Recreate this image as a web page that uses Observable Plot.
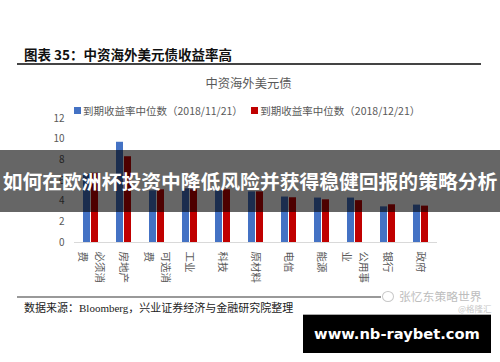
<!DOCTYPE html>
<html>
<head>
<meta charset="utf-8">
<script src="https://cdn.jsdelivr.net/npm/d3@7"></script>
<script src="https://cdn.jsdelivr.net/npm/@observablehq/plot@0.6"></script>
<style>
  html, body { margin: 0; padding: 0; background: #fff; }
  #wrap { position: relative; width: 500px; height: 362px; overflow: hidden; background: #fff;
          font-family: "Noto Sans CJK SC", "Noto Sans", sans-serif; }
  #wrap svg { position: absolute; left: 0; top: 0; }
  .abs { position: absolute; white-space: nowrap; }
  #title { left: 24px; top: 45px; font-size: 13.5px; font-weight: bold; color: #111; line-height: 18px; }
  #topline { left: 17px; top: 63px; width: 464px; height: 1.5px; background: #444; }
  #ctitle { left: 0; width: 497px; text-align: center; top: 75px; font-size: 12.3px; color: #595959; line-height: 16px; }
  #legend { left: 74px; top: 103px; font-size: 10.5px; color: #595959; line-height: 15px; display: flex; align-items: center; }
  #legend .sw { display: inline-block; width: 6.5px; height: 6.5px; margin-right: 2.5px; }
  #legend .item { display: inline-flex; align-items: center; margin-right: 8.5px; }
  #botline { left: 17px; top: 296px; width: 364px; height: 1.5px; background: #999; }
  #source { left: 24px; top: 299px; font-size: 11px; color: #222; line-height: 17px; }
  #source .en { font-family: "Liberation Serif", serif; font-size: 11px; }
  #logo { left: 382px; top: 291px; width: 10px; height: 9px; border: 1.2px solid #c8c8c8; border-radius: 50%; }
  #wm { left: 399px; top: 290px; font-size: 11.8px; color: #bdbdbd; line-height: 12px; }
  #wm2 { left: 458px; top: 304px; font-size: 8.5px; color: #c8c8c8; line-height: 9px; }
  #boxline { left: 303px; top: 314px; width: 188px; height: 1px; background: #aaa; }
  #banner { left: 0; top: 150px; width: 500px; height: 62px; background: rgba(0,0,0,0.6);
            color: #fff; font-weight: bold; font-size: 19.8px; text-align: center; line-height: 62px; }
  #box { left: 303px; top: 315px; width: 188px; height: 38px; background: #000; color: #fff;
         font-family: "DejaVu Sans", sans-serif; font-weight: bold; font-size: 14.7px; text-align: center; line-height: 38px; }
</style>
</head>
<body>
<div id="wrap"></div>
<script>
// ---- data ----
const categories = ["必须消费", "房地产", "可选消费", "工业", "科技", "原材料", "电信", "能源", "公用事业", "银行", "政府"];
const tickLabels = ["必须消\n费", "房地产", "可选消\n费", "工业", "科技", "原材料", "电信", "能源", "公用事\n业", "银行", "政府"];
const series = ["到期收益率中位数（2018/11/21）", "到期收益率中位数（2018/12/21）"];
const values1121 = [6.6, 9.7, 5.0, 5.2, 5.0, 4.9, 4.4, 4.3, 4.3, 3.45, 3.62];
const values1221 = [6.7, 8.3, 5.1, 5.1, 5.1, 4.9, 4.33, 4.13, 4.05, 3.65, 3.52];
const colors = ["#4472C4", "#C00000"];
const yTicks = [0, 2, 4, 6, 8, 10, 12];

const rows = [];
categories.forEach((c, i) => {
  rows.push({cat: c, series: series[0], value: values1121[i]});
  rows.push({cat: c, series: series[1], value: values1221[i]});
});
const linesOf = new Map(categories.map((c, i) => [c, tickLabels[i].split("\n")]));

const wrap = document.getElementById("wrap");

const axisOpts = {anchor: "bottom", tickSize: 0, tickPadding: 9, tickRotate: 90, lineAnchor: "middle",
                  fontSize: 10.5, fill: "#595959", label: null};

const chart = Plot.plot({
  width: 500,
  height: 362,
  marginLeft: 71,
  marginRight: 61,
  marginTop: 118,
  marginBottom: 120,
  style: {fontFamily: "'Noto Sans CJK SC', sans-serif", fontSize: "10px", color: "#595959", background: "transparent"},
  fx: {domain: categories, padding: 0, label: null},
  x: {domain: series, paddingInner: 0.16, paddingOuter: 0.93, axis: null},
  y: {domain: [0, 12], ticks: yTicks, tickSize: 0, tickPadding: 10, label: null},
  color: {domain: series, range: colors},
  marks: [
    Plot.barY(rows, {fx: "cat", x: "series", y: "value", fill: "series"}),
    Plot.ruleY([0], {stroke: "#d9d9d9", strokeWidth: 1}),
    // single-line category labels
    Plot.axisFx({...axisOpts, dx: -1, tickFormat: d => linesOf.get(d).length === 1 ? linesOf.get(d)[0] : ""}),
    // first line of wrapped labels (right column)
    Plot.axisFx({...axisOpts, dx: 8.5, tickFormat: d => linesOf.get(d).length > 1 ? linesOf.get(d)[0] : ""}),
    // second line of wrapped labels (left column)
    Plot.axisFx({...axisOpts, dx: -8.8, tickFormat: d => linesOf.get(d).length > 1 ? linesOf.get(d)[1] : ""})
  ]
});
wrap.appendChild(chart);

function add(id, html) {
  const d = document.createElement("div");
  d.className = "abs"; d.id = id; d.innerHTML = html; wrap.appendChild(d); return d;
}
add("title", "图表 35：中资海外美元债收益率高");
add("topline", "");
add("ctitle", "中资海外美元债");
const lg = add("legend", "");
series.forEach((s, i) => {
  const it = document.createElement("span"); it.className = "item";
  const sw = document.createElement("span"); sw.className = "sw"; sw.style.background = colors[i];
  it.appendChild(sw); it.appendChild(document.createTextNode(s)); lg.appendChild(it);
});
add("botline", "");
add("source", "数据来源：<span class='en'>Bloomberg</span>，兴业证券经济与金融研究院整理");
add("logo", "");
add("wm", "张忆东策略世界");
add("wm2", "@格隆汇");
add("banner", "如何在欧洲杯投资中降低风险并获得稳健回报的策略分析");
add("boxline", "");
add("box", "www.nb-raybet.com");
</script>
</body>
</html>
